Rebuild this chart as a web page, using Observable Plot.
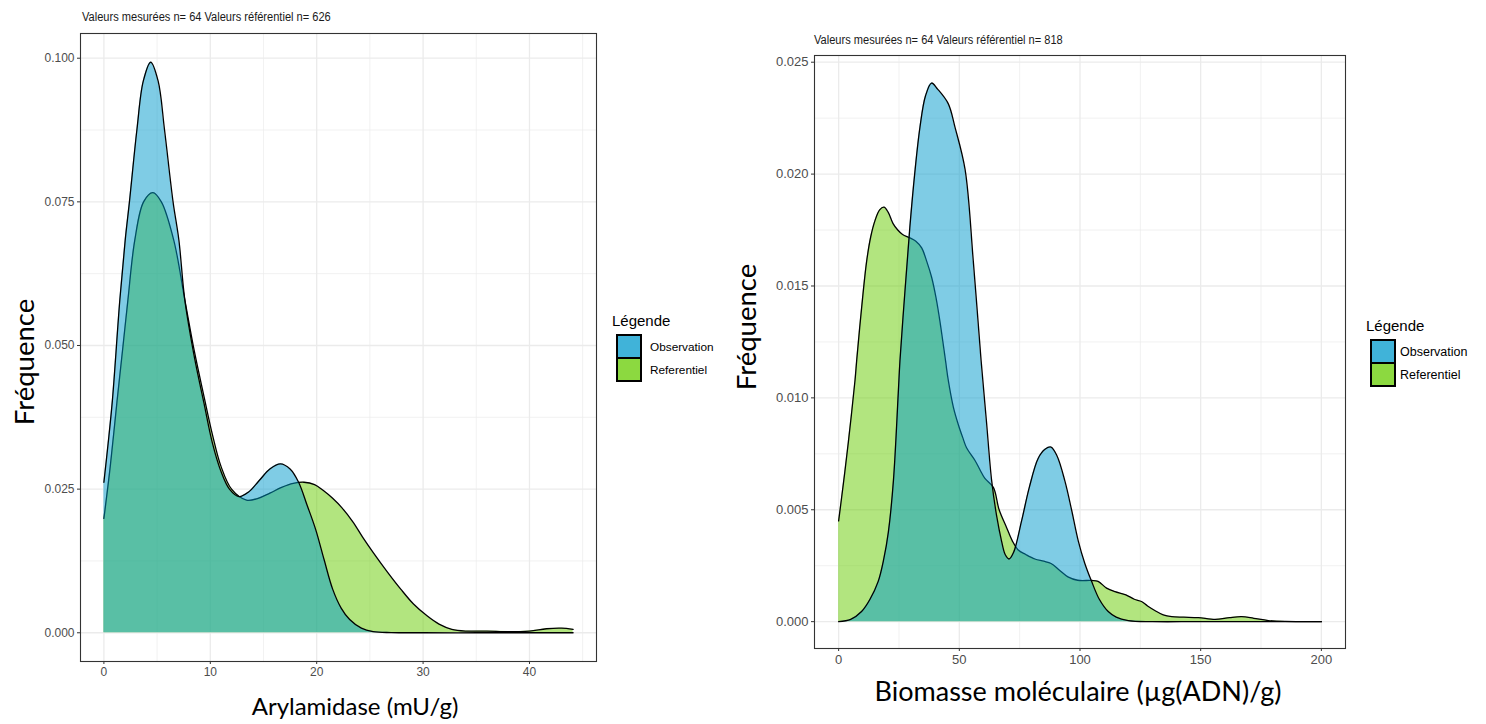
<!DOCTYPE html>
<html><head><meta charset="utf-8">
<script src="https://cdn.jsdelivr.net/npm/d3@7"></script>
<script src="https://cdn.jsdelivr.net/npm/@observablehq/plot@0.6"></script>
<style>
html,body{margin:0;padding:0;background:#fff}
#root{position:relative;width:1486px;height:724px;overflow:hidden;background:#fff;font-family:"Liberation Sans",Arial,sans-serif}
.abs{position:absolute;white-space:nowrap}
.ttl{font-size:12.3px;color:#1a1a1a;transform:translateY(-50%) scaleX(0.9);transform-origin:left center}
.big{font-family:Lato,"Open Sans",sans-serif;font-size:24px;color:#000;transform:translate(-50%,-50%)}
.rot{font-family:Lato,"Open Sans",sans-serif;font-size:27.5px;color:#000;transform:translate(-50%,-50%) rotate(-90deg)}
.lgt{font-size:15px;color:#000;transform:translateY(-50%)}
.lgl{font-size:12.5px;color:#000;transform:translateY(-50%)}
.keys{border:2px solid #000;background:#000;display:flex;flex-direction:column;gap:2px}
.key{width:22px;height:21px}
</style></head>
<body><div id="root"></div>
<script>
// ---------- shared ----------
const seriesNames = ["Observation", "Referentiel"];
const seriesFill = ["#0099CC", "#66CC00"];
const legendTitle = "Légende";
const yLabel = "Fréquence";

// ---------- panel 1 : Arylamidase ----------
const aryTitle = "Valeurs mesurées n= 64 Valeurs référentiel n= 626";
const aryXLabel = "Arylamidase (mU/g)";
const aryObsX = [0, 0.4, 0.8, 1.5, 2.0, 2.4, 3.1, 3.7, 4.4, 5.1, 5.7, 6.5, 7.05, 7.6, 8.5, 9.4, 10.2, 11.0, 11.8, 12.7, 13.6, 14.6, 15.6, 16.6, 17.5, 18.3, 19.1, 19.9, 20.7, 21.5, 22.3, 23.1, 24.2, 25.3, 27, 30, 35, 40, 44.1];
const aryObsY = [0.0262, 0.033, 0.0405, 0.058, 0.0683, 0.075, 0.0875, 0.096, 0.0993, 0.096, 0.0875, 0.075, 0.0683, 0.058, 0.048, 0.040, 0.033, 0.0281, 0.025, 0.0237, 0.0245, 0.0265, 0.0285, 0.0294, 0.0285, 0.0262, 0.0222, 0.018, 0.0127, 0.0076, 0.0043, 0.0023, 0.0008, 0.0002, 0.00003, 0, 0, 0, 0];
const aryRefX = [0, 0.6, 1.24, 1.8, 2.25, 2.9, 3.73, 4.6, 5.4, 6.57, 7.6, 8.5, 9.4, 10.2, 11.0, 12.0, 13.4, 14.5, 15.6, 16.7, 17.8, 18.8, 19.8, 20.6, 21.5, 22.4, 23.4, 24.3, 25.3, 26.6, 27.9, 29.1, 30.4, 31.5, 32.7, 34, 36, 38, 40, 41.6, 43, 44.1];
const aryRefY = [0.0199, 0.029, 0.0404, 0.050, 0.0578, 0.0683, 0.075, 0.0766, 0.075, 0.0683, 0.058, 0.049, 0.0412, 0.0345, 0.029, 0.025, 0.0231, 0.0234, 0.0243, 0.0253, 0.026, 0.0262, 0.0258, 0.0248, 0.0234, 0.0217, 0.0193, 0.0167, 0.014, 0.0107, 0.0076, 0.005, 0.0029, 0.0015, 0.0006, 0.0003, 0.0003, 0.0002, 0.0003, 0.0007, 0.0008, 0.0006];
const aryXTicks = [0, 10, 20, 30, 40];
const aryXMinor = [5, 15, 25, 35, 45];
const aryYTicks = [0, 0.025, 0.05, 0.075, 0.1];
const aryYMinor = [0.0125, 0.0375, 0.0625, 0.0875];

// ---------- panel 2 : Biomasse moléculaire ----------
const bioTitle = "Valeurs mesurées n= 64 Valeurs référentiel n= 818";
const bioXLabel = "Biomasse moléculaire (µg(ADN)/g)";
const bioObsX = [0, 5, 9.5, 13, 16.4, 18.7, 20.6, 22.7, 24.7, 25.4, 27.5, 29.5, 31.5, 33.7, 36, 38.5, 41, 45.4, 48.2, 52.4, 55.8, 59, 61.2, 63.4, 65.5, 67.5, 69, 70.6, 72.5, 75.8, 79, 82.7, 85.5, 88, 90.5, 93.7, 96.5, 99.3, 102, 104.8, 108, 111.7, 115, 120, 130, 150, 200];
const bioObsY = [0, 0.0001, 0.00045, 0.001, 0.0018, 0.0028, 0.004, 0.0063, 0.0102, 0.01165, 0.0148, 0.01762, 0.02, 0.0221, 0.0235, 0.02407, 0.0238, 0.02315, 0.0221, 0.0202, 0.0161, 0.0117, 0.009, 0.0063, 0.0047, 0.0036, 0.003, 0.0028, 0.0031, 0.0045, 0.006, 0.0073, 0.0077, 0.0078, 0.0074, 0.0063, 0.005, 0.0036, 0.0026, 0.0018, 0.001, 0.00045, 0.0002, 0.00005, 0, 0, 0];
const bioRefX = [0, 2, 4, 6.8, 7.5, 9.5, 11.6, 13.3, 15, 17, 18.8, 20.5, 22.5, 24.5, 26.5, 29.5, 32, 34.4, 36.5, 38.5, 40.3, 42, 44.3, 45.4, 47.5, 49.6, 51.5, 53, 56.5, 58.5, 60.6, 64.1, 66.5, 69.6, 72, 74.4, 77.5, 81.3, 85, 88, 91.5, 95, 99, 104.8, 107.5, 111, 114.5, 119, 122.5, 125.5, 128, 131, 134.5, 138, 143, 149, 156, 162, 167, 172, 178, 185, 200];
const bioRefY = [0.0045, 0.0062, 0.008, 0.0108, 0.0117, 0.014, 0.0161, 0.0172, 0.0179, 0.0184, 0.01852, 0.0183, 0.0178, 0.0175, 0.0173, 0.01715, 0.017, 0.0167, 0.0161, 0.0154, 0.0145, 0.0134, 0.01165, 0.0108, 0.0096, 0.0088, 0.0082, 0.00777, 0.0072, 0.0068, 0.0064, 0.006, 0.005, 0.0042, 0.0036, 0.0032, 0.003, 0.0028, 0.0027, 0.0026, 0.0023, 0.002, 0.00185, 0.00184, 0.0018, 0.0015, 0.00134, 0.0012, 0.001, 0.0009, 0.0007, 0.0005, 0.0003, 0.00022, 0.0002, 0.00018, 0.0001, 0.00018, 0.00022, 0.00015, 0.00005, 0.00001, 0];
const bioXTicks = [0, 50, 100, 150, 200];
const bioXMinor = [25, 75, 125, 175];
const bioYTicks = [0, 0.005, 0.01, 0.015, 0.02, 0.025];
const bioYMinor = [0.0025, 0.0075, 0.0125, 0.0175, 0.0225];

// ---------- helpers ----------
const root = document.getElementById("root");
function addDiv(cls, text, left, top, extra) {
  const d = document.createElement("div");
  d.className = "abs " + cls;
  d.textContent = text;
  d.style.left = left + "px";
  d.style.top = top + "px";
  if (extra) Object.assign(d.style, extra);
  root.appendChild(d);
  return d;
}
function rowsOf(name, xs, ys) { return xs.map((x, i) => ({series: name, x, y: ys[i]})); }

function panel(o) {
  const ref = rowsOf(seriesNames[1], o.refX, o.refY);
  const obs = rowsOf(seriesNames[0], o.obsX, o.obsY);
  const grid = "#ebebeb";
  const curve = "catmull-rom";
  const svg = Plot.plot({
    width: o.width, height: o.height,
    marginLeft: o.ml, marginRight: o.mr, marginTop: o.mt, marginBottom: o.mb,
    x: {domain: o.xDomain},
    y: {domain: o.yDomain},
    color: {domain: seriesNames, range: seriesFill},
    style: {fontFamily: "Liberation Sans, Arial, sans-serif", background: "transparent", overflow: "visible"},
    marks: [
      Plot.ruleX(o.xMinor, {stroke: grid, strokeWidth: 0.7}),
      Plot.ruleY(o.yMinor, {stroke: grid, strokeWidth: 0.7}),
      Plot.ruleX(o.xTicks, {stroke: grid, strokeWidth: 1.3}),
      Plot.ruleY(o.yTicks, {stroke: grid, strokeWidth: 1.3}),
      Plot.areaY(ref, {x: "x", y: "y", fill: "series", fillOpacity: 0.5, curve}),
      Plot.lineY(ref, {x: "x", y: "y", stroke: "#000", strokeWidth: 1.3, curve}),
      Plot.areaY(obs, {x: "x", y: "y", fill: "series", fillOpacity: 0.5, curve}),
      Plot.lineY(obs, {x: "x", y: "y", stroke: "#000", strokeWidth: 1.3, curve}),
      Plot.frame({stroke: "#333333", strokeWidth: 1.1}),
      Plot.axisX({ticks: o.xTicks, tickSize: 3, tickPadding: 3, fontSize: o.fs, color: "#4d4d4d", stroke: "#333", label: null}),
      Plot.axisY({ticks: o.yTicks, tickSize: 3, tickPadding: 3, fontSize: o.fs, color: "#4d4d4d", stroke: "#333", label: null, tickFormat: d3.format(".3f")})
    ]
  });
  svg.style.position = "absolute";
  svg.style.left = o.left + "px";
  svg.style.top = "0px";
  root.appendChild(svg);
}

function legend(x, yTitle, keyTop, labelX, labelSize) {
  const t = document.createElement("div");
  t.className = "abs lgt"; t.textContent = legendTitle;
  t.style.left = x + "px"; t.style.top = yTitle + "px";
  root.appendChild(t);
  const keys = document.createElement("div");
  keys.className = "abs keys";
  keys.style.left = (x + 4) + "px"; keys.style.top = keyTop + "px";
  seriesFill.forEach(c => {
    const k = document.createElement("div");
    k.className = "key";
    k.style.background = d3.interpolateRgb("#ffffff", c)(0.75);
    keys.appendChild(k);
  });
  root.appendChild(keys);
  seriesNames.forEach((n, i) => {
    const l = document.createElement("div");
    l.className = "abs lgl"; l.textContent = n;
    l.style.fontSize = labelSize + "px";
    l.style.left = labelX + "px"; l.style.top = (keyTop + 13 + i * 23) + "px";
    root.appendChild(l);
  });
}

// ---------- left panel ----------
panel({
  left: 0, width: 600, height: 724, ml: 80, mr: 4, mt: 33, mb: 63, fs: 12,
  xDomain: [-2.2, 46.3], yDomain: [-0.005, 0.1043],
  obsX: aryObsX, obsY: aryObsY, refX: aryRefX, refY: aryRefY,
  xTicks: aryXTicks, xMinor: aryXMinor, yTicks: aryYTicks, yMinor: aryYMinor
});
addDiv("ttl", aryTitle, 82, 17);
addDiv("rot", yLabel, 23, 362);
addDiv("big", aryXLabel, 355, 705);
legend(612, 320, 334, 650, 11.8);

// ---------- right panel ----------
panel({
  left: 734, width: 612, height: 724, ml: 80, mr: 1, mt: 55, mb: 76, fs: 13,
  xDomain: [-10, 210], yDomain: [-0.0012, 0.0253],
  obsX: bioObsX, obsY: bioObsY, refX: bioRefX, refY: bioRefY,
  xTicks: bioXTicks, xMinor: bioXMinor, yTicks: bioYTicks, yMinor: bioYMinor
});
addDiv("ttl", bioTitle, 814, 40);
addDiv("rot", yLabel, 745, 327);
addDiv("big", bioXLabel, 1078, 690, {fontSize: "27px"});
legend(1366, 325, 339, 1400, 12.5);
</script>
</body></html>
